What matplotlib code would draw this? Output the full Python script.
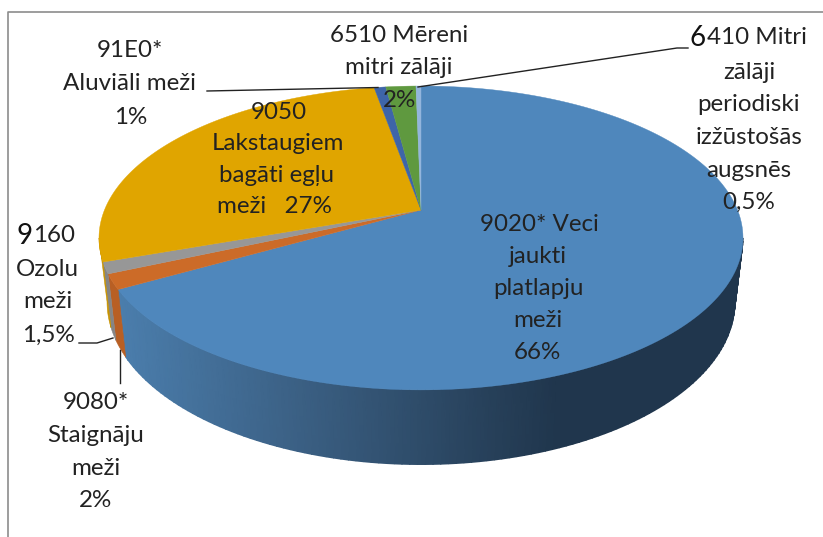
#!/usr/bin/env python3
import numpy as np
import matplotlib
matplotlib.use("Agg")
import matplotlib.pyplot as plt
from matplotlib.colors import LinearSegmentedColormap, Normalize

plt.rcParams["font.family"] = ["Lato", "DejaVu Sans"]

# slices, clockwise from the top of the pie (sizes as drawn, the labels round them)
habitats = ["9020*", "9080*", "9160", "9050", "91E0*", "6510", "6410"]
shares = [66.8, 1.6, 1.2, 27.6, 0.7, 1.8, 0.3]
top_colors = ["#4F87BC", "#CC6B28", "#979797", "#E0A500", "#3E65A8", "#5F993F", "#93B5DC"]
wall_colors = [None, "#B85F24", "#858585", "#C79200", None, None, None]

# text lines: (text, x, y)
labels = [
    ("9020* Veci", 539, 222), ("jaukti", 538, 254), ("platlapju", 538, 286),
    ("meži", 538, 318), ("66%", 537, 350),
    ("9050", 279, 110), ("Lakstaugiem", 278, 141), ("bagāti egļu", 277, 173),
    ("meži   27%", 274, 204),
    ("91E0*", 130, 48), ("Aluviāli meži", 130, 81), ("1%", 131, 115),
    ("6510 Mēreni", 399, 33), ("mitri zālāji", 399, 65), ("2%", 400, 98),
    ("zālāji", 749, 70), ("periodiski", 749, 102), ("izžūstošās", 749, 135),
    ("augsnēs", 749, 168), ("0,5%", 749, 200),
    ("Ozolu", 47, 267), ("meži", 48, 299), ("1,5%", 48, 333),
    ("9080*", 96, 400), ("Staignāju", 96, 433), ("meži", 96, 466), ("2%", 96, 498),
]

CX, CY = 421, 210
A, B, K = 146.8, 316.5, 0.184
TEXT = "#222222"
SIZE = 17.4
DY = 2.5  # va="center" sits a bit high for this font


def top_face(phi):
    x, y = np.sin(phi), np.cos(phi)
    w = 1 + K * y
    return CX + B * x / w, CY - A * y / w


def bottom_face(phi):
    x, y = np.sin(phi), np.cos(phi)
    w = 1 + K * y
    return CX + 0.975 * B * x / w, CY + 62 - 1.07 * A * y / w


fig = plt.figure(figsize=(8.23, 5.37), dpi=100)
ax = fig.add_axes([0, 0, 1, 1])
ax.set_xlim(0, 823)
ax.set_ylim(537, 0)
ax.axis("off")

# chart frame
ax.plot([8.5, 8.5, 823], [537, 11.5, 11.5], color="#8C8C8C", lw=1.2)

edges = np.radians(np.cumsum([0] + shares) * 3.6)
vis_start, vis_end = np.radians(100.6), np.radians(259.4)

blue_cmap = LinearSegmentedColormap.from_list(
    "wall",
    [(0.0, "#4B7EAD"), (0.29, "#3B6084"), (0.61, "#263F58"), (0.70, "#20364D"), (1.0, "#20364D")],
)
blue_norm = Normalize(117, 745)

# side wall, only the part that faces the viewer
for i in range(len(shares)):
    lo, hi = max(edges[i], vis_start), min(edges[i + 1], vis_end)
    if hi <= lo:
        continue
    phi = np.linspace(lo, hi, 120)
    tx, ty = top_face(phi)
    bx, by = bottom_face(phi)
    if wall_colors[i] is None:
        X = np.vstack([tx, bx])
        Y = np.vstack([ty, by])
        ax.pcolormesh(X, Y, X, cmap=blue_cmap, norm=blue_norm, shading="gouraud", zorder=2)
    else:
        ax.fill(np.r_[tx, bx[::-1]], np.r_[ty, by[::-1]], color=wall_colors[i], lw=0.4, zorder=2)

# top face
for i in range(len(shares)):
    phi = np.linspace(edges[i], edges[i + 1], 200)
    tx, ty = top_face(phi)
    ax.fill(np.r_[CX, tx], np.r_[CY, ty], color=top_colors[i], lw=0.3, zorder=3)

# leader lines
line = dict(color="#222222", lw=1.0, zorder=5)
ax.plot([207, 378], [91, 87.5], **line)
ax.plot([688, 677, 418], [48, 48, 87], **line)
ax.plot([79, 97, 113], [343, 343, 338], **line)
ax.plot([120, 120], [350, 383], **line)

for text, x, y in labels:
    ax.text(x, y + DY, text, ha="center", va="center", fontsize=SIZE, color=TEXT, zorder=6)

# these two labels start with a bigger, darker digit
ax.text(33, 233 + DY, "9", ha="right", va="center", fontsize=20, color="#111111", zorder=6)
ax.text(33, 233 + DY, "160", ha="left", va="center", fontsize=SIZE, color=TEXT, zorder=6)
ax.text(706, 35 + DY, "6", ha="right", va="center", fontsize=20, color="#111111", zorder=6)
ax.text(707, 35 + DY, "410 Mitri", ha="left", va="center", fontsize=SIZE, color=TEXT, zorder=6)

fig.savefig("out.png", dpi=100)
